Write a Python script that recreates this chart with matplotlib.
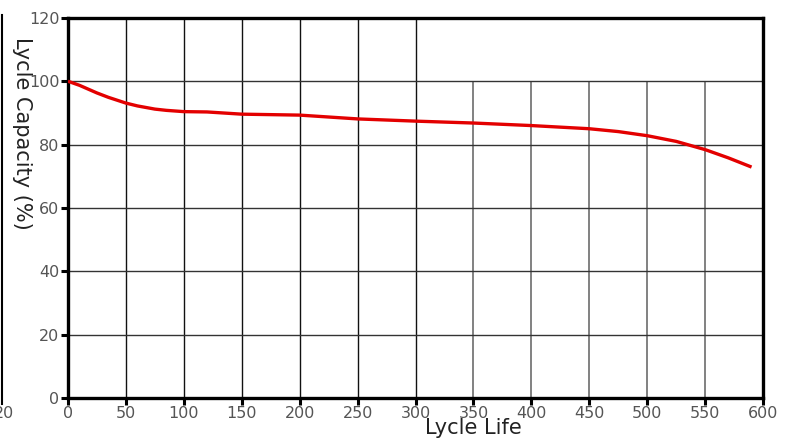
import matplotlib
matplotlib.use("Agg")
import matplotlib.pyplot as plt
import numpy as np

# capacity curve
cycles = [0, 10, 25, 35, 50, 60, 75, 85, 100, 120, 150, 200, 250, 300, 350, 400, 450, 475, 500, 525, 550, 570, 590]
capacity = [100, 98.7, 96.3, 94.9, 93.1, 92.2, 91.2, 90.8, 90.4, 90.3, 89.6, 89.3, 88.1, 87.4, 86.8, 86.0, 85.0, 84.1, 82.8, 81.0, 78.4, 75.8, 72.9]

xticks = [0, 50, 100, 150, 200, 250, 300, 350, 400, 450, 500, 550, 600]
yticks = [0, 20, 40, 60, 80, 100, 120]
full_vlines = [50, 100, 150, 200, 250, 300]
short_vlines = [350, 400, 450, 500, 550]

fig = plt.figure(figsize=(7.90, 4.41), dpi=100)
ax = fig.add_axes([0.086, 0.0975, 0.880, 0.862])

# grid: left part reaches the top, right part stops at 100
ax.vlines(full_vlines, 0, 120, colors="#111111", linewidth=1.0, zorder=1)
ax.vlines(short_vlines, 0, 100, colors="#777777", linewidth=1.3, zorder=1)
ax.hlines([20, 40, 60, 80, 100], 0, 600, colors="#333333", linewidth=1.0, zorder=1)

ax.plot(cycles, capacity, color="#e30000", linewidth=2.4, zorder=3,
        solid_capstyle="butt", solid_joinstyle="round")

ax.set_xlim(0, 600)
ax.set_ylim(0, 120)
ax.set_xticks(xticks)
ax.set_yticks(yticks)
ax.tick_params(axis="both", direction="out", length=5, width=2.2,
               labelsize=11.5, labelcolor="#555555", pad=1)
for sp in ax.spines.values():
    sp.set_linewidth(2.4)
    sp.set_color("black")

fig.text(0.599, 0.029, "Lycle Life", fontsize=15, ha="center", va="center",
         color="#222222")
fig.text(0.028, 0.698, "Lycle Capacity (%)", fontsize=15, rotation=-90,
         ha="center", va="center", color="#222222")

# cropped leftovers at the left border of the original screenshot
fig.add_artist(plt.Line2D([0.002, 0.002], [0.085, 0.965], color="black",
                          linewidth=1.5, transform=fig.transFigure))
fig.text(-0.008, 0.062, "20", fontsize=11.5, color="#555555", ha="left", va="center")

fig.savefig("out.png", dpi=100)
